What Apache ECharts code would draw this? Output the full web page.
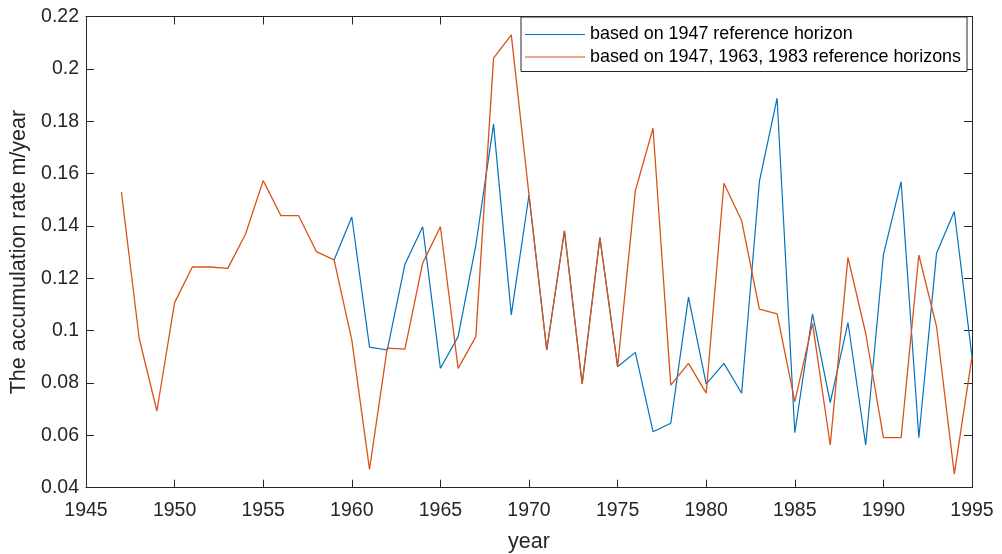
<!DOCTYPE html>
<html>
<head>
<meta charset="utf-8">
<script src="https://cdn.jsdelivr.net/npm/echarts@6/dist/echarts.min.js"></script>
<style>
  html, body { margin: 0; padding: 0; background: #ffffff; }
  #chart { width: 1002px; height: 554px; }
</style>
</head>
<body>
<div id="chart"></div>
<script>
// Accumulation rate per year, from two dating schemes
const yearsSingle = [1959, 1960, 1961, 1962, 1963, 1964, 1965, 1966, 1967, 1968,
  1969, 1970, 1971, 1972, 1973, 1974, 1975, 1976, 1977, 1978, 1979, 1980, 1981,
  1982, 1983, 1984, 1985, 1986, 1987, 1988, 1989, 1990, 1991, 1992, 1993, 1994, 1995];
const rateSingle = [0.127, 0.1434, 0.0937, 0.0926, 0.1254, 0.1397, 0.0856, 0.0977,
  0.1327, 0.1789, 0.106, 0.1518, 0.0926, 0.1381, 0.0796, 0.1355, 0.0862, 0.0917,
  0.0614, 0.0646, 0.1128, 0.0796, 0.0875, 0.0761, 0.1569, 0.1888, 0.061, 0.1064,
  0.0725, 0.1031, 0.0563, 0.1289, 0.1569, 0.0591, 0.1296, 0.1455, 0.09];

const yearsMulti = [1947, 1948, 1949, 1950, 1951, 1952, 1953, 1954, 1955, 1956,
  1957, 1958, 1959, 1960, 1961, 1962, 1963, 1964, 1965, 1966, 1967, 1968, 1969,
  1970, 1971, 1972, 1973, 1974, 1975, 1976, 1977, 1978, 1979, 1980, 1981, 1982,
  1983, 1984, 1985, 1986, 1987, 1988, 1989, 1990, 1991, 1992, 1993, 1994, 1995];
const rateMulti = [0.1529, 0.0971, 0.0693, 0.1107, 0.1243, 0.1243, 0.1238, 0.1368,
  0.1573, 0.1439, 0.1439, 0.1302, 0.127, 0.0964, 0.047, 0.0933, 0.0929, 0.1258,
  0.1397, 0.0856, 0.0977, 0.2041, 0.213, 0.1518, 0.0926, 0.1381, 0.0796, 0.1355,
  0.0862, 0.1534, 0.1773, 0.0792, 0.0875, 0.0761, 0.1563, 0.142, 0.1082, 0.1064,
  0.0729, 0.1028, 0.0563, 0.128, 0.099, 0.0591, 0.0591, 0.1289, 0.1015, 0.0452, 0.09];

const seriesNames = [
  'based on 1947 reference horizon',
  'based on 1947, 1963, 1983 reference horizons'
];

const xRange = { min: 1945, max: 1995, interval: 5 };
const yRange = { min: 0.04, max: 0.22, interval: 0.02 };

const FONT = '"Liberation Sans", Arial, Helvetica, sans-serif';
const AXIS_COLOR = '#262626';
const BLUE = '#0072BD';
const ORANGE = '#D95319';

function pairs(xs, ys) { return xs.map((x, i) => [x, ys[i]]); }

const chart = echarts.init(document.getElementById('chart'), null, { renderer: 'canvas' });

const tickStyle = { show: true, inside: true, length: 8, lineStyle: { color: AXIS_COLOR, width: 1 } };
const lineStyleAxis = { show: true, lineStyle: { color: AXIS_COLOR, width: 1 } };

chart.setOption({
  backgroundColor: '#ffffff',
  animation: false,
  textStyle: { fontFamily: FONT },
  grid: { left: 86, right: 30, top: 16.5, bottom: 66.3, containLabel: false, outerBoundsMode: 'none' },
  legend: {
    data: seriesNames.map((n) => ({ name: n, icon: 'rect' })),
    orient: 'vertical',
    left: 521,
    top: 17,
    itemWidth: 60,
    itemHeight: 1.2,
    itemGap: 4.5,
    padding: [8.5, 6, 5.5, 4],
    backgroundColor: '#ffffff',
    borderColor: AXIS_COLOR,
    borderWidth: 1,
    borderRadius: 0,
    textStyle: { fontFamily: FONT, fontSize: 17.9, color: '#000000', lineHeight: 18 }
  },
  xAxis: [
    {
      type: 'value', min: xRange.min, max: xRange.max, interval: xRange.interval,
      position: 'bottom',
      name: 'year', nameLocation: 'middle', nameGap: 43,
      nameTextStyle: { fontFamily: FONT, fontSize: 21.5, color: AXIS_COLOR },
      axisLine: lineStyleAxis, axisTick: tickStyle,
      axisLabel: { margin: 13, fontFamily: FONT, fontSize: 19.5, color: AXIS_COLOR,
        formatter: (v) => String(v) },
      splitLine: { show: false }
    },
    {
      type: 'value', min: xRange.min, max: xRange.max, interval: xRange.interval,
      position: 'top',
      axisLine: lineStyleAxis, axisTick: tickStyle,
      axisLabel: { show: false }, splitLine: { show: false }
    }
  ],
  yAxis: [
    {
      type: 'value', min: yRange.min, max: yRange.max, interval: yRange.interval,
      position: 'left',
      name: 'The accumulation rate m/year', nameLocation: 'middle', nameGap: 52,
      nameTextStyle: { fontFamily: FONT, fontSize: 21.5, color: AXIS_COLOR },
      axisLine: lineStyleAxis, axisTick: tickStyle,
      axisLabel: { margin: 7, fontFamily: FONT, fontSize: 19.5, color: AXIS_COLOR },
      splitLine: { show: false }
    },
    {
      type: 'value', min: yRange.min, max: yRange.max, interval: yRange.interval,
      position: 'right',
      axisLine: lineStyleAxis, axisTick: tickStyle,
      axisLabel: { show: false }, splitLine: { show: false }
    }
  ],
  series: [
    {
      name: seriesNames[0], type: 'line', xAxisIndex: 0, yAxisIndex: 0,
      data: pairs(yearsSingle, rateSingle),
      symbol: 'none', showSymbol: false,
      lineStyle: { color: BLUE, width: 1.2 },
      itemStyle: { color: BLUE }
    },
    {
      name: seriesNames[1], type: 'line', xAxisIndex: 0, yAxisIndex: 0,
      data: pairs(yearsMulti, rateMulti),
      symbol: 'none', showSymbol: false,
      lineStyle: { color: ORANGE, width: 1.3 },
      itemStyle: { color: ORANGE }
    }
  ]
});
</script>
</body>
</html>
